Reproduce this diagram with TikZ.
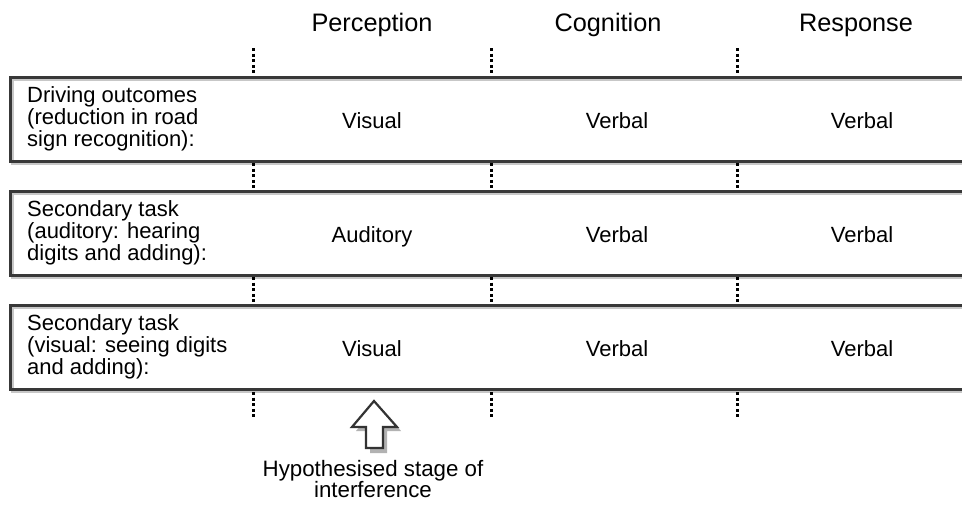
\documentclass[tikz,border=0pt]{standalone}
\usepackage{fontspec}
\setmainfont{Liberation Sans}
\begin{document}
\begin{tikzpicture}[x=1pt,y=-1pt,
  frame/.style={draw=black!78,line width=3pt},
  frameshadow/.style={draw=black!22,line width=2.6pt},
  sep/.style={draw=black,line width=3pt,dash pattern=on 3pt off 2.6pt},
  head/.style={font=\fontsize{25.3}{28}\selectfont,anchor=base},
  cell/.style={font=\fontsize{22}{22.5}\selectfont,anchor=base},
  rowlabel/.style={font=\fontsize{22}{22.3}\selectfont,align=left,anchor=west,inner sep=0pt},
  note/.style={font=\fontsize{22.3}{21.5}\selectfont,align=center,anchor=north,inner sep=0pt}]
\useasboundingbox (0,0) rectangle (962,507);
\fill[white] (0,0) rectangle (962,507);

% column headings
\node[head] (hp) at (372,31) {Perception};
\node[head] (hc) at (608,31) {Cognition};
\node[head] (hr) at (856,31) {Response};

% rows: open-ended frames with a light shadow
\foreach \t/\b in {77/161, 191/275, 305/389}{
  \draw[frameshadow] (962,\t+2.6) -- (12.6,\t+2.6) -- (12.6,\b+2.6) -- (962,\b+2.6);
  \draw[frame] (962,\t) -- (10,\t) -- (10,\b) -- (962,\b);
}

% stage separators
\foreach \x in {253,491,737}{
  \draw[sep] (\x,48) -- (\x,74);
  \draw[sep] (\x,163) -- (\x,189);
  \draw[sep] (\x,277) -- (\x,303);
  \draw[sep] (\x,392) -- (\x,419);
}

% row labels
\node[rowlabel] (r1) at (27,119) {Driving outcomes\\(reduction in road\\sign recognition):};
\node[rowlabel] (r2) at (27,233) {Secondary task\\(auditory: hearing\\digits and adding):};
\node[rowlabel] (r3) at (27,347) {Secondary task\\(visual: seeing digits\\and adding):};

% cells
\node[cell] (p1) at (372,128) {Visual};
\node[cell] (c1) at (617,128) {Verbal};
\node[cell] (s1) at (862,128) {Verbal};
\node[cell] (p2) at (372,242) {Auditory};
\node[cell] (c2) at (617,242) {Verbal};
\node[cell] (s2) at (862,242) {Verbal};
\node[cell] (p3) at (372,356) {Visual};
\node[cell] (c3) at (617,356) {Verbal};
\node[cell] (s3) at (862,356) {Verbal};

% hollow arrow with shadow
\fill[black!30] (378,405) -- (401,431) -- (387,431) -- (387,453) -- (370,453) -- (370,431) -- (356,431) -- cycle;
\filldraw[fill=white,draw=black!80,line width=2.2pt,line join=miter]
  (374,401) -- (397,427) -- (383,427) -- (383,448) -- (366,448) -- (366,427) -- (352,427) -- cycle;

\node[note] (cap) at (373,460) {Hypothesised stage of\\interference};
\end{tikzpicture}
\end{document}
